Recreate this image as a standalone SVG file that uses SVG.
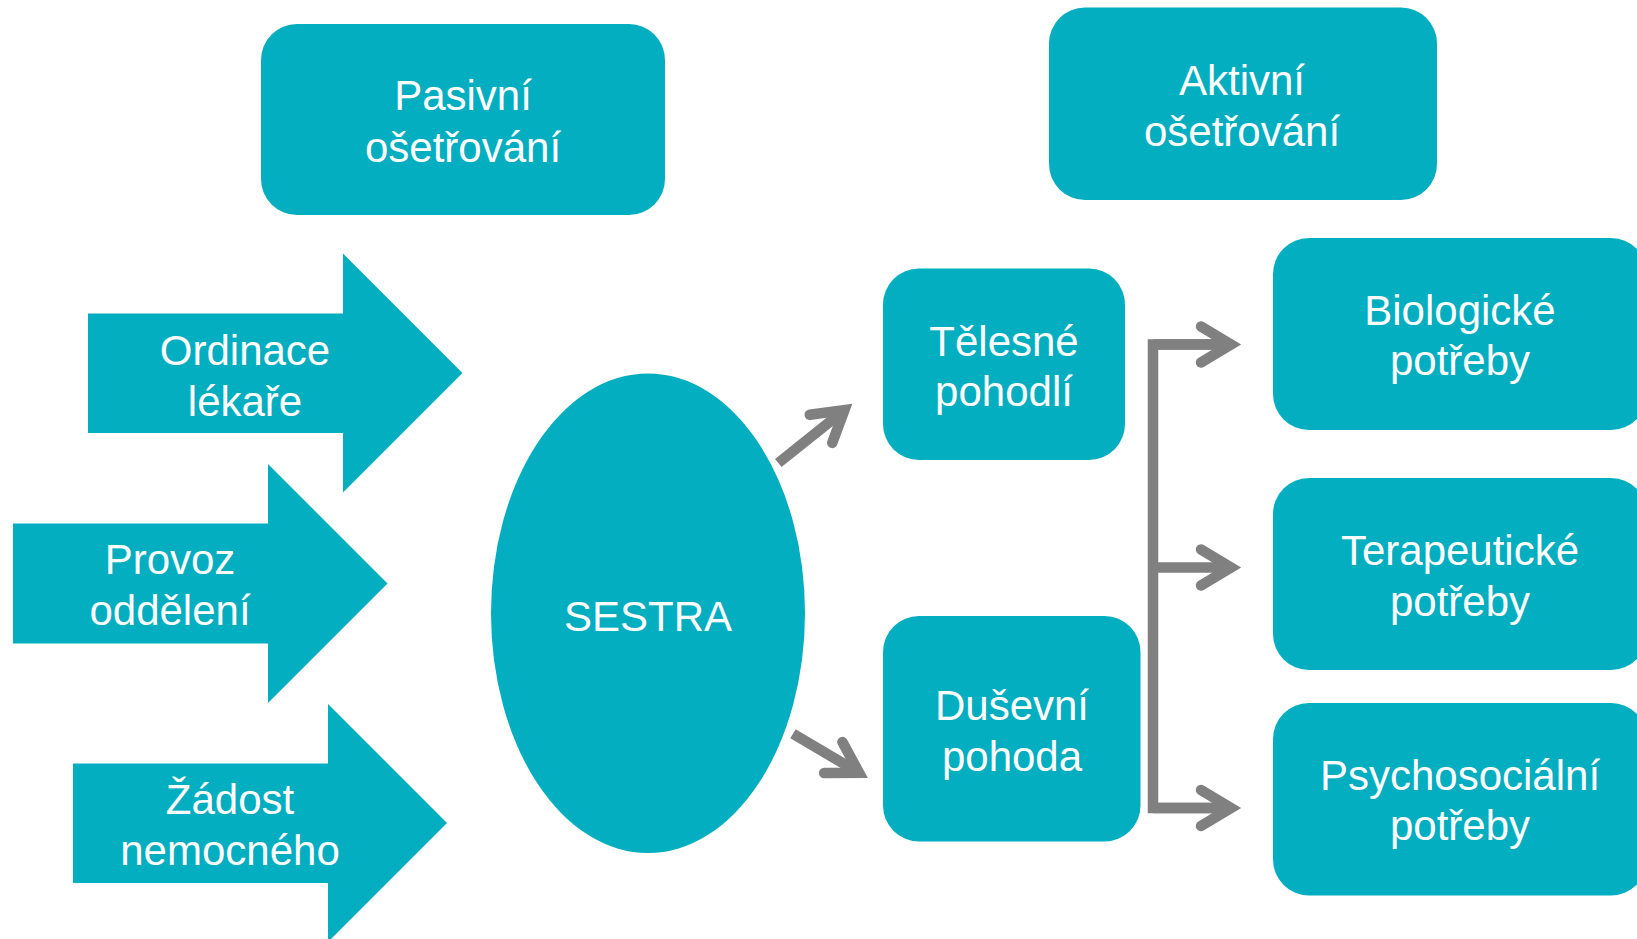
<svg xmlns="http://www.w3.org/2000/svg" width="1637" height="939" viewBox="0 0 1637 939">
  <defs>
    <style>
      .box { fill: #02AEC0; }
      .lbl { fill: #FFFFFF; font-family: "Liberation Sans", Arial, sans-serif; font-size: 42px; text-anchor: middle; }
      .conn { fill: none; stroke: #808080; stroke-width: 10.5; stroke-linecap: butt; stroke-linejoin: miter; }
    </style>
    <marker id="open" markerUnits="userSpaceOnUse" markerWidth="80" markerHeight="80" refX="0" refY="0" orient="auto" overflow="visible">
      <path d="M-30,-18 L0,0 L-30,18" fill="none" stroke="#808080" stroke-width="10.5" stroke-linecap="round" stroke-linejoin="miter"/>
    </marker>
  </defs>
  <rect width="1637" height="939" fill="#FFFFFF"/>

  <g id="pasivni">
    <rect class="box" x="261" y="24" width="404" height="191" rx="36" ry="36"/>
    <text class="lbl" x="463" y="110">Pasivní</text>
    <text class="lbl" x="463" y="161.5">ošetřování</text>
  </g>

  <g id="aktivni">
    <rect class="box" x="1049" y="7.5" width="388" height="192.5" rx="36" ry="36"/>
    <text class="lbl" x="1242" y="94.5">Aktivní</text>
    <text class="lbl" x="1242" y="145.5">ošetřování</text>
  </g>

  <g id="ordinace">
    <polygon class="box" points="88,313.5 343,313.5 343,253.5 462.5,373 343,492.5 343,433 88,433"/>
    <text class="lbl" x="245" y="365">Ordinace</text>
    <text class="lbl" x="245" y="416">lékaře</text>
  </g>

  <g id="provoz">
    <polygon class="box" points="13,523.5 268,523.5 268,464 387.5,583.5 268,703 268,643.5 13,643.5"/>
    <text class="lbl" x="170" y="574">Provoz</text>
    <text class="lbl" x="170" y="624.5">oddělení</text>
  </g>

  <g id="zadost">
    <polygon class="box" points="73,763.5 328,763.5 328,704 447,823 328,942 328,883 73,883"/>
    <text class="lbl" x="230" y="814">Žádost</text>
    <text class="lbl" x="230" y="864.5">nemocného</text>
  </g>

  <g id="sestra">
    <ellipse class="box" cx="648" cy="613.3" rx="157" ry="239.8"/>
    <text class="lbl" x="648" y="630.5">SESTRA</text>
  </g>

  <g id="telesne">
    <rect class="box" x="883" y="268.5" width="242" height="191.5" rx="36" ry="36"/>
    <text class="lbl" x="1004" y="355.5">Tělesné</text>
    <text class="lbl" x="1004" y="406">pohodlí</text>
  </g>

  <g id="dusevni">
    <rect class="box" x="883" y="616" width="257.5" height="225.5" rx="36" ry="36"/>
    <text class="lbl" x="1012" y="720">Duševní</text>
    <text class="lbl" x="1012" y="771">pohoda</text>
  </g>

  <g id="biologicke">
    <rect class="box" x="1273" y="238" width="374" height="192" rx="36" ry="36"/>
    <text class="lbl" x="1460" y="324.5">Biologické</text>
    <text class="lbl" x="1460" y="375">potřeby</text>
  </g>

  <g id="terapeuticke">
    <rect class="box" x="1273" y="478" width="374" height="192" rx="36" ry="36"/>
    <text class="lbl" x="1460" y="565">Terapeutické</text>
    <text class="lbl" x="1460" y="615.5">potřeby</text>
  </g>

  <g id="psychosocialni">
    <rect class="box" x="1273" y="703" width="374" height="192.5" rx="36" ry="36"/>
    <text class="lbl" x="1460" y="789.5">Psychosociální</text>
    <text class="lbl" x="1460" y="840">potřeby</text>
  </g>

  <g id="connectors">
    <line class="conn" x1="778.3" y1="463" x2="844.4" y2="410.1" marker-end="url(#open)"/>
    <line class="conn" x1="793" y1="733.7" x2="859.1" y2="772.8" marker-end="url(#open)"/>
    <path class="conn" d="M1231,344.5 L1153,344.5 L1153,808 L1231,808" marker-start="none"/>
    <line class="conn" x1="1153" y1="344.5" x2="1231" y2="344.5" marker-end="url(#open)"/>
    <line class="conn" x1="1153" y1="567.5" x2="1231" y2="567.5" marker-end="url(#open)"/>
    <line class="conn" x1="1153" y1="808" x2="1231" y2="808" marker-end="url(#open)"/>
  </g>
</svg>
